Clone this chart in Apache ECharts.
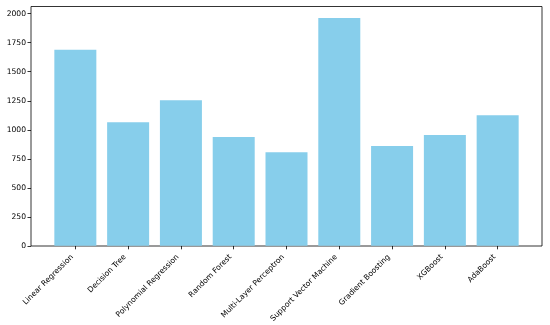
<!DOCTYPE html>
<html><head><meta charset="utf-8">
<script src="https://cdn.jsdelivr.net/npm/echarts@6/dist/echarts.min.js"></script>
<style>html,body{margin:0;padding:0;background:#fff}#c{width:550px;height:325px}</style>
</head><body><div id="c"></div>
<script>
const categories = ["Linear Regression","Decision Tree","Polynomial Regression","Random Forest","Multi-Layer Perceptron","Support Vector Machine","Gradient Boosting","XGBoost","AdaBoost"];
const values = [1689, 1065, 1254, 938, 806, 1962, 861, 955, 1125];
const yTicks = [0, 250, 500, 750, 1000, 1250, 1500, 1750, 2000];

const idx = categories.map((c, i) => i);
const chart = echarts.init(document.getElementById('c'), null, {renderer: 'canvas'});
const font = 'DejaVu Sans';
chart.setOption({
  animation: false,
  grid: [
    {left: 31, right: 8, top: 6.5, bottom: 79, show: true, borderColor: '#000', borderWidth: 0.8, backgroundColor: 'transparent'},
    {left: 31, right: 8, top: 13.7, bottom: 79}
  ],
  xAxis: [
    {gridIndex: 0, type: 'value', min: 0, max: 1, show: false},
    {
      gridIndex: 1, type: 'value', min: -0.84, max: categories.length - 1 + 0.84,
      splitLine: {show: false},
      axisLine: {show: false, onZero: false},
      axisTick: {show: true, length: 3.5, customValues: idx, lineStyle: {color: '#000', width: 0.8}},
      axisLabel: {customValues: idx, rotate: 45, margin: 6.8, padding: [0, 4.5, 0, 0], fontFamily: font, fontSize: 7.6, color: '#000',
        formatter: v => categories[Math.round(v)]}
    }
  ],
  yAxis: [
    {gridIndex: 0, type: 'value', min: 0, max: 1, show: false},
    {
      gridIndex: 1, type: 'value', min: yTicks[0], max: yTicks[yTicks.length - 1], interval: 250,
      splitLine: {show: false},
      axisLine: {show: false, onZero: false},
      axisTick: {show: true, length: 3.5, lineStyle: {color: '#000', width: 0.8}},
      axisLabel: {margin: 5, fontFamily: font, fontSize: 7.6, color: '#000', formatter: v => String(v)}
    }
  ],
  series: [{
    type: 'bar',
    xAxisIndex: 1, yAxisIndex: 1,
    data: values.map((v, i) => [i, v]),
    barWidth: 42,
    itemStyle: {color: '#87CEEB'}
  }]
});
</script></body></html>
